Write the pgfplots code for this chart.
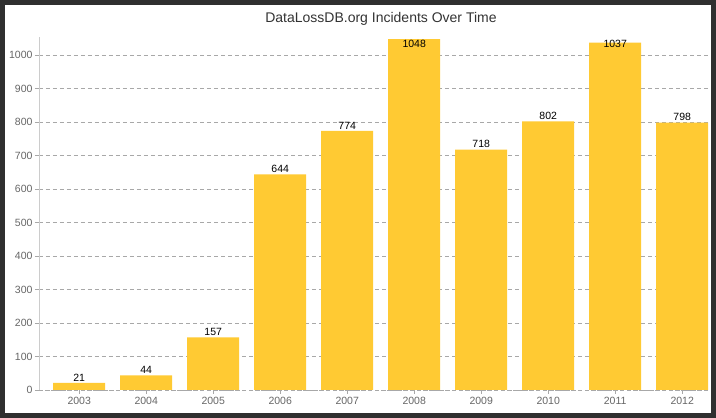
\documentclass[border=0pt]{standalone}
\usepackage{pgfplots}
\pgfplotsset{compat=1.18}
\usepackage{fontspec}
\setmainfont{Liberation Sans}
\definecolor{barc}{HTML}{FFCA33}
\definecolor{frame}{HTML}{2F2F2F}
\definecolor{ticktxt}{HTML}{666666}
\definecolor{gridc}{HTML}{A8A8A8}
\begin{document}
\begin{tikzpicture}
\path[use as bounding box] (0,0) rectangle (716pt,418pt);
\fill[white] (0,0) rectangle (716pt,418pt);
\begin{axis}[
  at={(39pt,28pt)}, anchor=south west,
  scale only axis, width=672pt, height=353pt,
  xmin=-0.6, xmax=9.43, ymin=0, ymax=1054,
  xtick=data,
  xticklabels={2003,2004,2005,2006,2007,2008,2009,2010,2011,2012},
  ytick={0,100,...,1000},
  axis x line*=bottom, axis y line*=left,
  x axis line style={draw=gridc, dashed, -},
  y axis line style={draw=black!20, -},
  ymajorgrids,
  major grid style={draw=gridc, dash pattern=on 4pt off 3pt, line width=0.6pt},
  tick style={draw=gridc, line width=0.6pt},
  major tick length=4pt,
  ytick pos=left, xtick pos=bottom,
  tick align=outside,
  ticklabel style={font=\fontsize{10.5}{12}\selectfont, text=ticktxt},
  yticklabel style={xshift=1pt},
  /pgf/number format/assume math mode=true,
  /pgf/number format/1000 sep={},
  clip=false,
  title={DataLossDB.org Incidents Over Time},
  title style={font=\fontsize{14}{16}\selectfont, text=black!80, at={(0.5,1)}, xshift=6pt, yshift=2pt, anchor=south},
]
\addplot[ybar, bar width=52pt, fill=barc, draw=none] coordinates {
  (0,21) (1,44) (2,157) (3,644) (4,774) (5,1048) (6,718) (7,802) (8,1037) (9,798)
};
\addplot[draw=none, mark=none, nodes near coords, point meta=explicit symbolic,
  every node near coord/.append style={anchor=south, inner sep=1.5pt, font=\fontsize{10.5}{12}\selectfont, text=black}]
  coordinates {
  (0,21)[21] (1,44)[44] (2,157)[157] (3,644)[644] (4,774)[774]
  (5,1018)[1048] (6,718)[718] (7,802)[802] (8,1018)[1037] (9,798)[798]
};
\end{axis}
\draw[frame, line width=5pt] (2.5pt,2.5pt) rectangle (713.5pt,415.5pt);
\end{tikzpicture}
\end{document}
